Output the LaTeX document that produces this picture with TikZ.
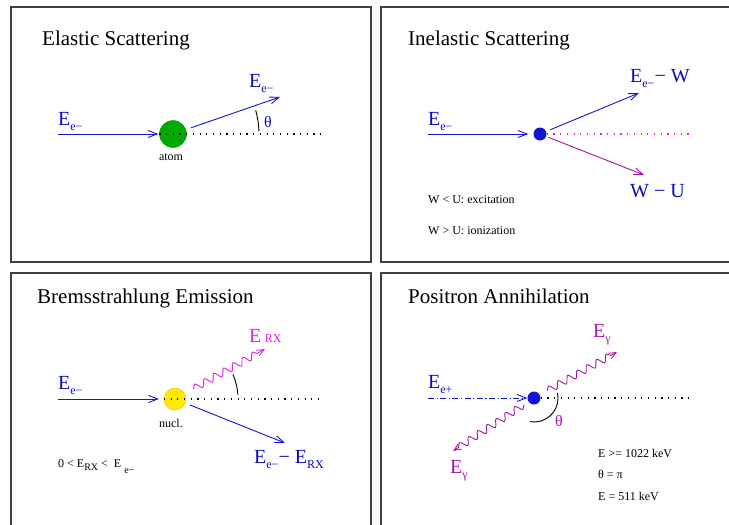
\documentclass[tikz,border=0pt]{standalone}
\usepackage{fontspec}
\setmainfont{Liberation Serif}
\usetikzlibrary{arrows.meta,calc,decorations.pathmorphing}

\definecolor{eblue}{RGB}{20,20,215}
\definecolor{txtblue}{RGB}{10,10,190}
\definecolor{purp}{RGB}{165,20,165}
\definecolor{brmag}{RGB}{225,30,225}
\definecolor{atomgreen}{RGB}{0,170,0}
\definecolor{nuclyellow}{RGB}{255,235,0}

% lowered small index, as in E_{e-}
\newcommand{\lowsub}[2][5pt]{\raisebox{-#1}{\fontsize{12}{12}\selectfont #2}}

\tikzset{
  panel/.style={draw=black!75, line width=1.2pt},
  heading/.style={anchor=base west, inner sep=0pt, font=\fontsize{21}{25}\selectfont},
  biglabel/.style={anchor=base west, inner sep=0pt, font=\fontsize{20}{24}\selectfont},
  note/.style={anchor=base west, inner sep=0pt, font=\fontsize{12}{14}\selectfont},
  ray/.style={line width=0.9pt, -{Straight Barb[length=9pt,width=7pt]}},
  photon/.style={line width=0.9pt, -{Straight Barb[length=7pt,width=6pt]},
    decorate, decoration={snake, amplitude=3.5pt, segment length=11pt, post length=5pt}},
  axisdots/.style={line width=1.2pt, dash pattern=on 1.2pt off 5.5pt},
  particle/.style={circle, inner sep=0pt}
}

\begin{document}
\begin{tikzpicture}[x={(1pt,0pt)}, y={(0pt,-1pt)}]
\useasboundingbox (0,0) rectangle (729,525);
\clip (0,0) rectangle (729,525);
% Four panels
\draw[panel] (11,7) rectangle (371,262);
\draw[panel] (381,7) rectangle (745,262);
\draw[panel] (11,273) rectangle (371,545);
\draw[panel] (381,273) rectangle (745,545);

% Elastic scattering
\node[heading] (t1) at (42,45) {Elastic Scattering};
\node[particle, fill=atomgreen, draw=atomgreen!85!black, minimum size=27pt] (atom) at (173,134) {};
\coordinate (in1) at (58,134);
\coordinate (end1) at (323,134);
\coordinate (out1) at (280,97);
\draw[ray, eblue, shorten >=1pt] (in1) -- (atom.west);
\draw[axisdots] (atom.west) -- (end1);
\draw[ray, eblue] ($(atom)!19pt!(out1)$) -- (out1);
\draw[line width=0.9pt] (atom.center) ++(2:86pt) arc[start angle=2, end angle=16, radius=86pt];
\node[biglabel, text=txtblue] (ein1) at (58,125) {E\lowsub{e−}};
\node[biglabel, text=txtblue] (eout1) at (249,87) {E\lowsub{e−}};
\node[anchor=base west, inner sep=0pt, text=txtblue, font=\fontsize{16}{18}\selectfont] (th1) at (264,127) {θ};
\node[note, anchor=base] (atomlab) at (171,160) {atom};

% Inelastic scattering
\node[heading] (t2) at (408,45) {Inelastic Scattering};
\node[particle, fill=eblue, minimum size=13pt] (ion) at (540,134) {};
\coordinate (in2) at (428,134);
\coordinate (end2) at (694,134);
\coordinate (up2) at (639,93);
\coordinate (dn2) at (644,175);
\draw[ray, eblue, shorten >=5pt] (in2) -- (ion.west);
\draw[axisdots, brmag] (ion.east) -- (end2);
\draw[ray, eblue] ($(ion)!11pt!(up2)$) -- (up2);
\draw[ray, purp] ($(ion)!9pt!(dn2)$) -- (dn2);
\node[biglabel, text=txtblue] (ein2) at (428,125) {E\lowsub{e−}};
\node[biglabel, text=txtblue] (eup2) at (630,82) {E\lowsub{e−}− W};
\node[biglabel, text=txtblue] (edn2) at (630,197) {W − U};
\node[note] (exc) at (428,203) {W < U: excitation};
\node[note] (ionz) at (428,234) {W > U: ionization};

% Bremsstrahlung
\node[heading] (t3) at (37,303) {Bremsstrahlung Emission};
\node[particle, fill=nuclyellow, draw=nuclyellow!85!black, minimum size=22pt] (nucl) at (175,399) {};
\coordinate (in3) at (58,399);
\coordinate (end3) at (323,399);
\coordinate (ph3) at (265,349);
\coordinate (out3) at (285,443);
\draw[ray, eblue, shorten >=5pt] (in3) -- (nucl.west);
\draw[axisdots] (nucl.west) -- (end3);
\draw[photon, brmag] ($(nucl)!21pt!(ph3)$) -- (ph3);
\draw[ray, eblue] ($(nucl)!16pt!(out3)$) -- (out3);
\draw[line width=0.9pt] (nucl.center) ++(4:63pt) arc[start angle=4, end angle=23, radius=63pt];
\node[biglabel, text=txtblue] (ein3) at (58,389) {E\lowsub{e−}};
\node[biglabel, text=brmag] (erx) at (249,342) {E\,{\fontsize{12}{12}\selectfont RX}};
\node[biglabel, text=txtblue] (eout3) at (254,463) {E\lowsub{e−}− E\lowsub{RX}};
\node[note, anchor=base] (nucllab) at (171,427) {nucl.};
\node[note] (range) at (58,467) {0 < E\raisebox{-3pt}{\fontsize{10}{10}\selectfont RX} <\ \ E\ \raisebox{-6pt}{\fontsize{10}{10}\selectfont e−}};

% Positron annihilation
\node[heading] (t4) at (408,303) {Positron Annihilation};
\node[particle, fill=eblue, minimum size=13pt] (pos) at (534,398) {};
\coordinate (in4) at (428,398);
\coordinate (end4) at (693,398);
\coordinate (g1) at (617,352);
\coordinate (g2) at (453,451);
\draw[ray, eblue, dash pattern=on 6pt off 2.5pt on 1.2pt off 2.5pt] (in4) -- (pos.west);
\draw[axisdots] (pos.east) -- (end4);
\draw[photon, purp] ($(pos)!15pt!(g1)$) -- (g1);
\draw[photon, purp] ($(pos)!12pt!(g2)$) -- (g2);
\draw[line width=0.9pt] (pos.center) ++(12:24pt) arc[start angle=12, end angle=-100, radius=24pt];
\node[biglabel, text=txtblue] (ein4) at (428,388) {E\lowsub{e+}};
\node[biglabel, text=purp] (eg1) at (593,337) {E\lowsub{γ}};
\node[biglabel, text=purp] (eg2) at (450,473) {E\lowsub{γ}};
\node[anchor=base west, inner sep=0pt, text=purp, font=\fontsize{16}{18}\selectfont] (th4) at (555,426) {θ};
\node[note] (thr) at (598,457) {E >= 1022 keV};
\node[note] (angle) at (598,478) {θ = π};
\node[note] (each) at (598,500) {E = 511 keV};
\end{tikzpicture}
\end{document}
